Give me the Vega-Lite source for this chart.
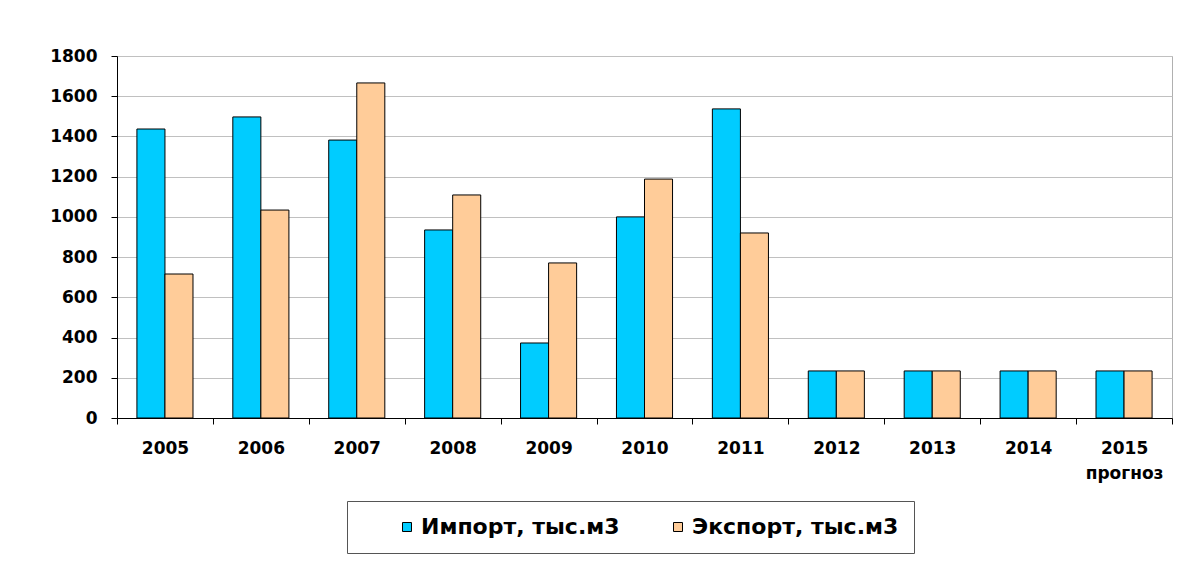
{
  "$schema": "https://vega.github.io/schema/vega-lite/v6.json",
  "autosize": {"type": "none"},
  "width": 1055,
  "height": 362,
  "padding": {"left": 117, "top": 56, "right": 23, "bottom": 147},
  "background": "white",
  "data": {"values": [
    {"year": "2005", "series": "Импорт, тыс.м3", "value": 1437},
    {"year": "2005", "series": "Экспорт, тыс.м3", "value": 716},
    {"year": "2006", "series": "Импорт, тыс.м3", "value": 1497},
    {"year": "2006", "series": "Экспорт, тыс.м3", "value": 1034},
    {"year": "2007", "series": "Импорт, тыс.м3", "value": 1382},
    {"year": "2007", "series": "Экспорт, тыс.м3", "value": 1666},
    {"year": "2008", "series": "Импорт, тыс.м3", "value": 935},
    {"year": "2008", "series": "Экспорт, тыс.м3", "value": 1109},
    {"year": "2009", "series": "Импорт, тыс.м3", "value": 373},
    {"year": "2009", "series": "Экспорт, тыс.м3", "value": 771},
    {"year": "2010", "series": "Импорт, тыс.м3", "value": 1000},
    {"year": "2010", "series": "Экспорт, тыс.м3", "value": 1188},
    {"year": "2011", "series": "Импорт, тыс.м3", "value": 1537},
    {"year": "2011", "series": "Экспорт, тыс.м3", "value": 920},
    {"year": "2012", "series": "Импорт, тыс.м3", "value": 234},
    {"year": "2012", "series": "Экспорт, тыс.м3", "value": 234},
    {"year": "2013", "series": "Импорт, тыс.м3", "value": 234},
    {"year": "2013", "series": "Экспорт, тыс.м3", "value": 234},
    {"year": "2014", "series": "Импорт, тыс.м3", "value": 234},
    {"year": "2014", "series": "Экспорт, тыс.м3", "value": 234},
    {"year": "2015 прогноз", "series": "Импорт, тыс.м3", "value": 234},
    {"year": "2015 прогноз", "series": "Экспорт, тыс.м3", "value": 234}
  ]},
  "mark": {"type": "bar", "stroke": "black", "strokeWidth": 1},
  "encoding": {
    "x": {
      "field": "year", "type": "nominal", "sort": null,
      "scale": {"paddingInner": 0, "paddingOuter": 0},
      "axis": {
        "title": null, "labelAngle": 0, "tickBand": "extent",
        "domainColor": "black", "tickColor": "black", "tickSize": 6,
        "labelPadding": 16, "labelBaseline": "top", "labelLineHeight": 25,
        "labelExpr": "split(datum.label, ' ')", "grid": false
      }
    },
    "xOffset": {
      "field": "series", "type": "nominal",
      "scale": {"paddingInner": 0, "paddingOuter": 0.71}
    },
    "y": {
      "field": "value", "type": "quantitative",
      "scale": {"domain": [0, 1800], "nice": false},
      "axis": {
        "title": null, "values": [0, 200, 400, 600, 800, 1000, 1200, 1400, 1600, 1800],
        "format": "d",
        "domainColor": "black", "tickColor": "black", "tickSize": 6,
        "labelPadding": 14, "gridColor": "#c0c0c0"
      }
    },
    "color": {
      "field": "series", "type": "nominal",
      "scale": {"domain": ["Импорт, тыс.м3", "Экспорт, тыс.м3"], "range": ["#00CCFF", "#FFCC99"]},
      "legend": {
        "title": null, "orient": "none", "direction": "horizontal",
        "legendX": 230, "legendY": 445,
        "strokeColor": "#555555", "padding": 15,
        "symbolType": "square", "symbolSize": 81, "symbolStrokeColor": "black", "symbolStrokeWidth": 1,
        "symbolOffset": 34, "columnPadding": 13, "labelOffset": 3
      }
    }
  },
  "config": {
    "font": "DejaVu Sans",
    "axis": {"labelFont": "DejaVu Sans", "labelFontWeight": "bold", "labelFontSize": 17, "labelColor": "black"},
    "legend": {"labelFont": "DejaVu Sans", "labelFontWeight": "bold", "labelFontSize": 22, "labelColor": "black", "labelLimit": 500},
    "view": {"stroke": "#b0b0b0"}
  }
}
